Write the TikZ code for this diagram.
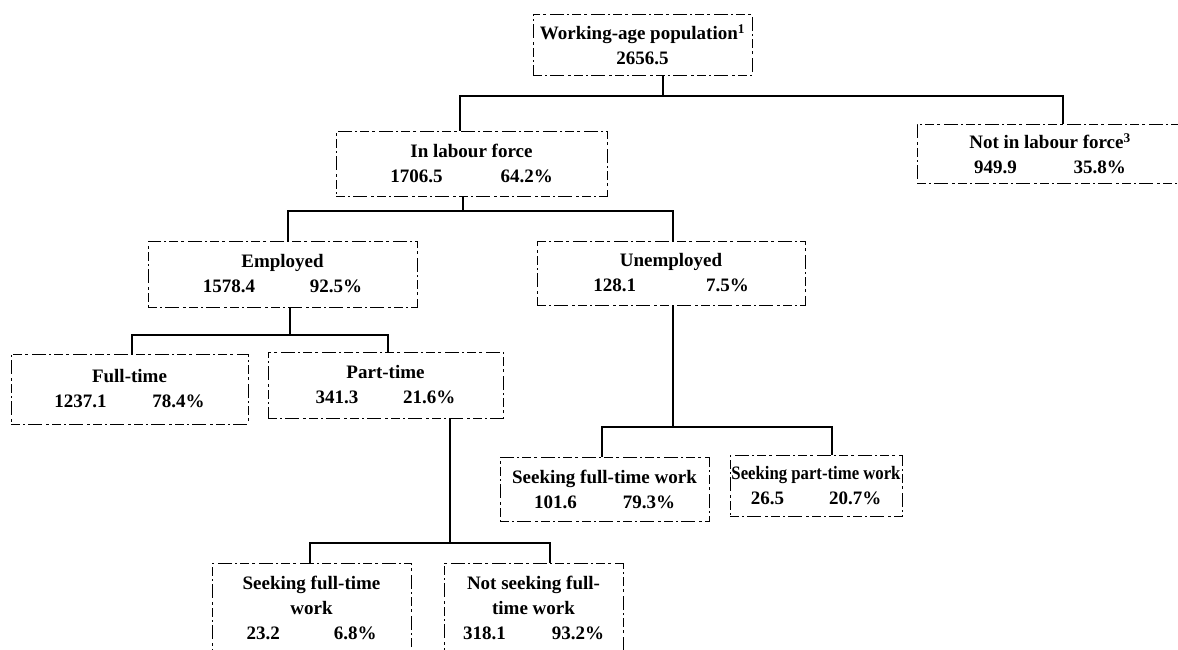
\documentclass[tikz,border=0pt]{standalone}
\usepackage{fontspec}
\setmainfont{Liberation Serif}
\begin{document}
\begin{tikzpicture}[x=1pt,y=-1pt,
  box/.style={draw, line width=0.6pt,
    dash pattern=on 9pt off 3pt on 2pt off 3pt on 14pt off 4pt on 3pt off 3pt,
    align=center, inner sep=0pt,
    font=\fontsize{19}{25}\selectfont\bfseries},
  conn/.style={line width=1.5pt}]
\useasboundingbox (0,0) rectangle (1178,649);
\newcommand\nums[3]{#1\hspace{#3pt}#2}

\node[box, minimum width=219pt, minimum height=61pt] (wap) at (642.5,44.5)
  {Working-age population\textsuperscript{1}\\2656.5};
\node[box, minimum width=271pt, minimum height=65pt] (lab) at (471.5,163.5)
  {In labour force\\\nums{1706.5}{64.2\%}{58}};
\node[box, minimum width=266pt, minimum height=59pt] (nlf) at (1050,153.5)
  {Not in labour force\textsuperscript{3}\\\nums{949.9}{35.8\%}{57}};
\node[box, minimum width=269pt, minimum height=66pt] (emp) at (282.5,274)
  {Employed\\\nums{1578.4}{92.5\%}{55}};
\node[box, minimum width=268pt, minimum height=64pt] (unemp) at (671,273)
  {Unemployed\\\nums{128.1}{7.5\%}{70}};
\node[box, minimum width=237pt, minimum height=70pt] (ft) at (129.5,389)
  {Full-time\\\nums{1237.1}{78.4\%}{46}};
\node[box, minimum width=235pt, minimum height=66pt] (pt) at (385.5,385)
  {Part-time\\\nums{341.3}{21.6\%}{45}};
\node[box, minimum width=209pt, minimum height=64pt] (sfu) at (604.5,489)
  {Seeking full-time work\\\nums{101.6}{79.3\%}{46}};
\node[box, minimum width=172pt, minimum height=61pt] (spu) at (816,485.5)
  {\scalebox{0.88}[1]{Seeking part-time work}\\\nums{26.5}{20.7\%}{45}};
\node[box, minimum width=199pt, minimum height=90pt] (sfp) at (311.5,608)
  {Seeking full-time\\work\\\nums{23.2}{6.8\%}{54}};
\node[box, minimum width=179pt, minimum height=90pt] (nsf) at (533.5,608)
  {Not seeking full-\\time work\\\nums{318.1}{93.2\%}{46}};

% level 1
\coordinate (j1) at (663,96);
\coordinate (b1l) at (460,96);
\coordinate (b1r) at (1063,96);
\draw[conn] (wap.south -| j1) -- (j1);
\draw[conn] (lab.north -| b1l) -- (b1l) -- (b1r) -- (nlf.north -| b1r);

% level 2
\coordinate (j2) at (463,211);
\coordinate (b2l) at (288,211);
\coordinate (b2r) at (673,211);
\draw[conn] (lab.south -| j2) -- (j2);
\draw[conn] (emp.north -| b2l) -- (b2l) -- (b2r) -- (unemp.north -| b2r);

% employed
\coordinate (j3) at (290,335);
\coordinate (b3l) at (132,335);
\coordinate (b3r) at (388,335);
\draw[conn] (emp.south -| j3) -- (j3);
\draw[conn] (ft.north -| b3l) -- (b3l) -- (b3r) -- (pt.north -| b3r);

% unemployed
\coordinate (j5) at (673,427);
\coordinate (b5l) at (602,427);
\coordinate (b5r) at (832,427);
\draw[conn] (unemp.south -| j5) -- (j5);
\draw[conn] (sfu.north -| b5l) -- (b5l) -- (b5r) -- (spu.north -| b5r);

% part-time
\coordinate (j4) at (450,543);
\coordinate (b4l) at (310,543);
\coordinate (b4r) at (550,543);
\draw[conn] (pt.south -| j4) -- (j4);
\draw[conn] (sfp.north -| b4l) -- (b4l) -- (b4r) -- (nsf.north -| b4r);
\end{tikzpicture}
\end{document}
